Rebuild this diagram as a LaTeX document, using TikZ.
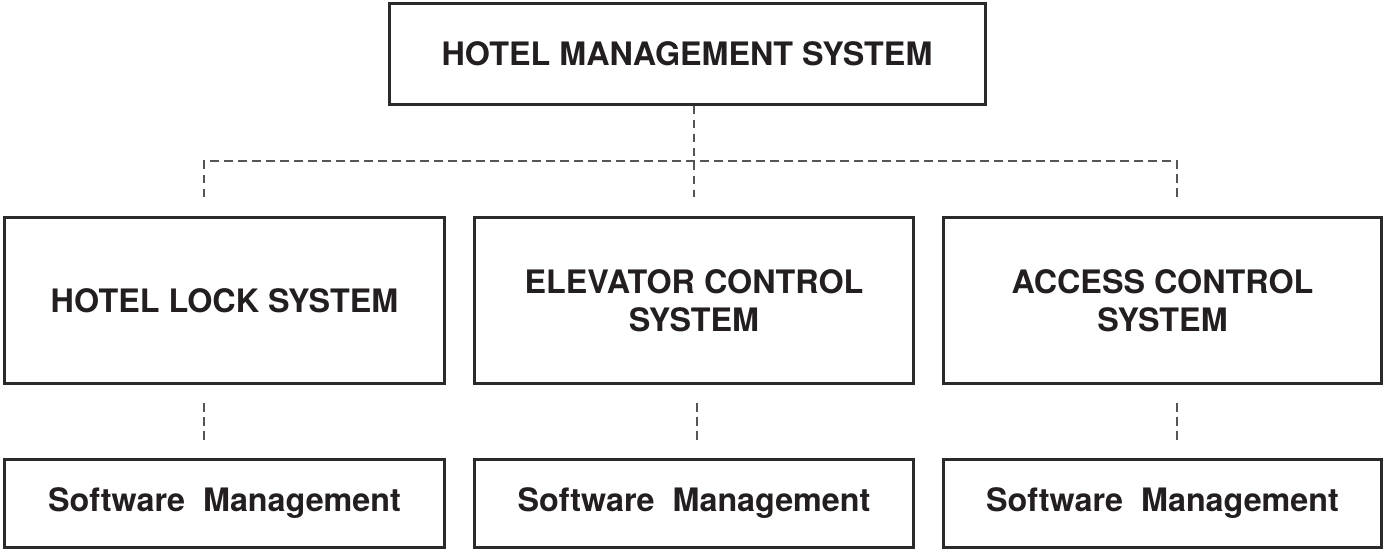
\documentclass[tikz,border=0pt]{standalone}
\usepackage{fontspec}
\setmainfont{TeX Gyre Heros}
\definecolor{boxc}{HTML}{2B2A29}
\definecolor{dashc}{HTML}{555555}
\definecolor{txtc}{HTML}{231F20}
\begin{document}
\begin{tikzpicture}[x=1pt,y=-1pt,
  box/.style={draw=boxc, line width=3pt, rectangle, inner sep=0pt, align=center,
    font=\fontsize{32.3}{37.5}\selectfont\bfseries, text=txtc},
  link/.style={draw=dashc, line width=2.7pt, dash pattern=on 8.5pt off 5.5pt}]
\useasboundingbox[fill=white] (0,0) rectangle (1385,550);
% top
\node[box, minimum width=596pt, minimum height=101pt] (top) at (687,53.5) {HOTEL MANAGEMENT SYSTEM};
% middle row
\node[box, minimum width=440pt, minimum height=166pt] (m1) at (224.5,300.5) {HOTEL LOCK SYSTEM};
\node[box, minimum width=439pt, minimum height=166pt] (m2) at (694,300.5) {ELEVATOR CONTROL\\SYSTEM};
\node[box, minimum width=438pt, minimum height=166pt] (m3) at (1162.5,300.5) {ACCESS CONTROL\\SYSTEM};
% bottom row
\node[box, minimum width=440pt, minimum height=88pt] (b1) at (224.5,503.5) {Software~~Management};
\node[box, minimum width=439pt, minimum height=88pt] (b2) at (694,503.5) {Software~~Management};
\node[box, minimum width=438pt, minimum height=88pt] (b3) at (1162.5,503.5) {Software~~Management};
% connector coordinates
\coordinate (jc) at (694,161);
\coordinate (jl) at (204,161);
\coordinate (jr) at (1177,161);
\coordinate (e1) at (204,197);
\coordinate (e2) at (694,197);
\coordinate (e3) at (1177,197);
\coordinate (s1) at (204,403);
\coordinate (t1) at (204,441);
\coordinate (s2) at (697,403);
\coordinate (t2) at (697,441);
\coordinate (s3) at (1177,403);
\coordinate (t3) at (1177,441);
% connectors
\draw[link] (top.south -| jc) -- (jc) -- (e2);
\draw[link] (e1) -- (jl) -- (jr) -- (e3);
\draw[link] (s1) -- (t1);
\draw[link] (s2) -- (t2);
\draw[link] (s3) -- (t3);
\end{tikzpicture}
\end{document}
